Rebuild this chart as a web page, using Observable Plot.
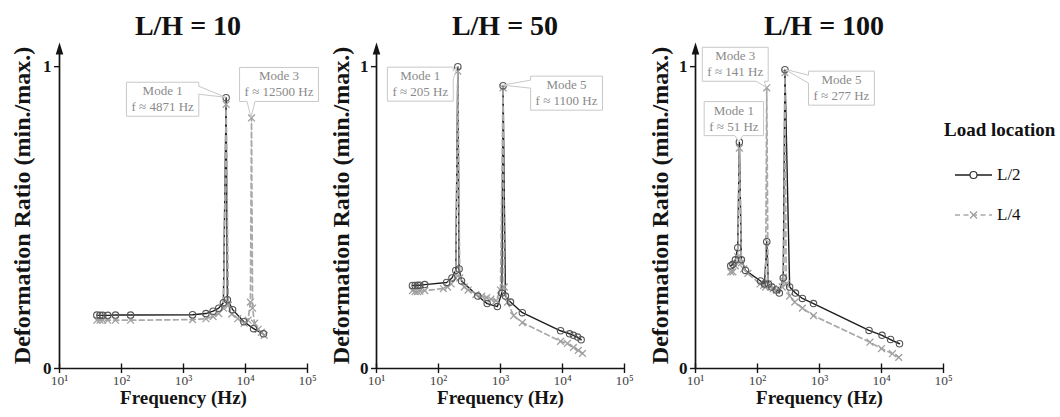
<!DOCTYPE html>
<html><head><meta charset="utf-8">
<script src="https://cdn.jsdelivr.net/npm/d3@7"></script>
<script src="https://cdn.jsdelivr.net/npm/@observablehq/plot@0.6"></script>
<style>
html,body{margin:0;padding:0;background:#fff;}
#chart{position:relative;width:1060px;height:417px;overflow:hidden;font-family:"Liberation Serif",serif;color:#111;}
.panel{position:absolute;top:0;}
.ptitle{position:absolute;top:12px;width:300px;margin-left:-150px;text-align:center;font-weight:bold;font-size:28px;line-height:28px;white-space:nowrap;}
.legtitle{position:absolute;left:944px;font-weight:bold;font-size:19px;line-height:19px;white-space:nowrap;}
.legrow{position:absolute;left:955px;height:20px;display:flex;align-items:center;font-size:17px;white-space:nowrap;}
</style></head><body><div id="chart"></div>
<script>
// ---------------- data ----------------
const panelTitles = ["L/H = 10", "L/H = 50", "L/H = 100"];
const seriesNames = ["L/2", "L/4"];
const xTickValues = [10, 100, 1000, 10000, 100000];
const xTickLabels = ["10¹", "10²", "10³", "10⁴", "10⁵"];
const yTickValues = [0, 1];
const xLabel = "Frequency (Hz)";
const yLabel = "Deformation Ratio (min./max.)";
const legendTitle = "Load location";

// L/H = 10
const freq10L2 = [40, 45, 50, 60, 80, 140, 1400, 2300, 3000, 3700, 4400, 4871, 5100, 6200, 9400, 13500, 19500];
const ratio10L2 = [0.177, 0.176, 0.176, 0.176, 0.177, 0.177, 0.178, 0.182, 0.19, 0.2, 0.218, 0.897, 0.228, 0.195, 0.155, 0.132, 0.115];
const freq10L4 = [40, 45, 50, 60, 80, 140, 1400, 2300, 3000, 3700, 4400, 4871, 5300, 6000, 7500, 9500, 11000, 12000, 12500, 13000, 14000, 16000, 18000, 20000];
const ratio10L4 = [0.16, 0.16, 0.16, 0.16, 0.16, 0.16, 0.162, 0.165, 0.172, 0.182, 0.2, 0.875, 0.21, 0.18, 0.165, 0.15, 0.16, 0.22, 0.83, 0.2, 0.15, 0.13, 0.12, 0.11];

// L/H = 50
const freq50L2 = [38, 42, 46, 50, 60, 135, 165, 190, 205, 215, 235, 430, 610, 890, 1050, 1100, 1200, 1450, 2250, 9300, 13000, 15000, 17500, 20000];
const ratio50L2 = [0.275, 0.275, 0.276, 0.276, 0.278, 0.285, 0.3, 0.325, 1.0, 0.33, 0.29, 0.24, 0.215, 0.205, 0.25, 0.937, 0.24, 0.22, 0.185, 0.125, 0.115, 0.11, 0.104, 0.095];
const freq50L4 = [38, 42, 46, 50, 60, 120, 140, 160, 190, 205, 220, 260, 300, 400, 500, 600, 700, 850, 1000, 1100, 1150, 1300, 1630, 2250, 9300, 12000, 15000, 18000, 21000];
const ratio50L4 = [0.258, 0.255, 0.255, 0.256, 0.258, 0.265, 0.27, 0.28, 0.3, 0.985, 0.3, 0.27, 0.26, 0.245, 0.24, 0.235, 0.23, 0.225, 0.26, 0.93, 0.27, 0.22, 0.175, 0.152, 0.09, 0.083, 0.07, 0.06, 0.05];

// L/H = 100
const freq100L2 = [37, 40, 44, 48, 51, 55, 64, 112, 130, 141, 150, 170, 200, 225, 260, 277, 330, 410, 530, 800, 6300, 10200, 14000, 19500];
const ratio100L2 = [0.34, 0.345, 0.36, 0.4, 0.75, 0.36, 0.325, 0.29, 0.28, 0.42, 0.28, 0.27, 0.26, 0.25, 0.3, 0.99, 0.27, 0.25, 0.232, 0.215, 0.126, 0.11, 0.096, 0.082];
const freq100L4 = [37, 40, 44, 48, 51, 55, 60, 70, 110, 125, 135, 141, 148, 160, 180, 200, 250, 265, 277, 290, 330, 400, 530, 800, 6500, 10000, 15000, 19000];
const ratio100L4 = [0.32, 0.32, 0.34, 0.37, 0.73, 0.35, 0.33, 0.315, 0.28, 0.275, 0.27, 0.93, 0.28, 0.27, 0.265, 0.26, 0.27, 0.29, 0.98, 0.28, 0.24, 0.22, 0.2, 0.175, 0.087, 0.066, 0.049, 0.037];

// mode annotations
const modePanel = [0, 0, 1, 1, 2, 2, 2];
const modeName = ["Mode 1", "Mode 3", "Mode 1", "Mode 5", "Mode 3", "Mode 1", "Mode 5"];
const modeFreq = [4871, 12500, 205, 1100, 141, 51, 277];
const modeFreqText = ["f ≈ 4871 Hz", "f ≈ 12500 Hz", "f ≈ 205 Hz", "f ≈ 1100 Hz", "f ≈ 141 Hz", "f ≈ 51 Hz", "f ≈ 277 Hz"];
const modeSeries = ["L/2", "L/4", "L/2", "L/2", "L/4", "L/2", "L/2"];

// ---------------- layout (not data) ----------------
const panelLeft = [0, 320, 640];
const panelML = [59, 56, 55];
const panelMR = [23, 26, 27];
const panelW = 330;
const yLabelDx = [-37, -35, -35];
const calloutLayout = [
  {dx: -63, dy: 2, side: "right"},
  {dx: 28, dy: -33, side: "bottom"},
  {dx: -37, dy: 18, side: "right"},
  {dx: 64, dy: 8, side: "left"},
  {dx: -31, dy: -23, side: "bottom"},
  {dx: -5, dy: -23, side: "bottom"},
  {dx: 57, dy: 19, side: "left"}
];

const panelSeries = [
  [[freq10L2, ratio10L2], [freq10L4, ratio10L4]],
  [[freq50L2, ratio50L2], [freq50L4, ratio50L4]],
  [[freq100L2, ratio100L2], [freq100L4, ratio100L4]]
];

const INK = "#141414";
const arrowHead = {draw(ctx) { ctx.moveTo(0, -12); ctx.lineTo(3.8, 0); ctx.lineTo(-3.8, 0); ctx.closePath(); }};
const chart = document.getElementById("chart");

panelTitles.forEach((title, p) => {
  const [[fA, rA], [fB, rB]] = panelSeries[p];
  const rowsL2 = fA.map((f, i) => ({f, r: rA[i], s: seriesNames[0]}));
  const rowsL4 = fB.map((f, i) => ({f, r: rB[i], s: seriesNames[1]}));

  const plot = Plot.plot({
    width: panelW, height: 417,
    marginLeft: panelML[p], marginRight: panelMR[p], marginTop: 42, marginBottom: 49,
    style: {background: "transparent", fontFamily: "'Liberation Serif', serif", overflow: "visible", color: INK},
    x: {type: "log", domain: [10, 100000]},
    y: {domain: [0, 1.08]},
    marks: [
      Plot.axisX({ticks: xTickValues, tickFormat: d => xTickLabels[xTickValues.indexOf(d)], tickSize: 5, tickPadding: 2,
                  fontSize: 13.5, fill: "#444", stroke: INK, strokeWidth: 1.4, label: null}),
      Plot.ruleX(xTickValues, {x: d => d, y1: 0, y2: 0.015, stroke: INK, strokeWidth: 1.4}),
      Plot.axisY({ticks: yTickValues, tickFormat: d => String(d), tickSize: 5, tickPadding: 3,
                  fontSize: 17, fontWeight: "bold", fill: INK, stroke: INK, strokeWidth: 1.4, label: null}),
      Plot.ruleY([0], {stroke: INK, strokeWidth: 1.7}),
      Plot.ruleX([10], {y1: 0, y2: 1.04, stroke: INK, strokeWidth: 1.7}),
      Plot.dot([10], {x: d => d, y: () => 1.04, symbol: arrowHead, r: 4, fill: INK, stroke: "none"}),
      Plot.text([yLabel], {text: d => d, frameAnchor: "left", rotate: -90, dx: yLabelDx[p], textAnchor: "middle",
                  lineAnchor: "middle", fontSize: 24, fontWeight: "bold", fill: INK}),
      Plot.text([xLabel], {text: d => d, frameAnchor: "bottom", dy: 29, textAnchor: "middle",
                  lineAnchor: "middle", fontSize: 19, fontWeight: "bold", fill: INK}),
      Plot.line(rowsL2, {x: "f", y: "r", stroke: "#1c1c1c", strokeWidth: 1.4}),
      Plot.line(rowsL4, {x: "f", y: "r", stroke: "#a9a9a9", strokeWidth: 1.7, strokeDasharray: "5,3.5"}),
      Plot.dot(rowsL4, {x: "f", y: "r", symbol: "times", r: 3.2, stroke: "#a0a0a0", strokeWidth: 1.3}),
      Plot.dot(rowsL2, {x: "f", y: "r", symbol: "circle", r: 3.2, stroke: "#555", fill: "none", strokeWidth: 1.1})
    ]
  });

  const wrap = document.createElement("div");
  wrap.className = "panel";
  wrap.style.left = panelLeft[p] + "px";
  wrap.appendChild(plot);
  chart.appendChild(wrap);

  // callouts
  const xs = plot.scale("x"), ys = plot.scale("y");
  const svg = d3.select(plot);
  modePanel.forEach((mp, k) => {
    if (mp !== p) return;
    const sIdx = seriesNames.indexOf(modeSeries[k]);
    const [fs, rs] = panelSeries[p][sIdx];
    const val = rs[fs.indexOf(modeFreq[k])];
    const tx = xs.apply(modeFreq[k]), ty = ys.apply(val);
    const lay = calloutLayout[k];
    const g = svg.append("g");
    const t1 = g.append("text").text(modeName[k]);
    const t2 = g.append("text").text(modeFreqText[k]);
    [t1, t2].forEach(t => t.attr("font-size", 13).attr("fill", "#8a8a8a").attr("text-anchor", "middle")
      .attr("font-family", "'Liberation Serif', serif"));
    const w = Math.max(t1.node().getComputedTextLength(), t2.node().getComputedTextLength()) + 10;
    const h = 34;
    const cx = tx + lay.dx, cy = ty + lay.dy;
    const x0 = cx - w / 2, x1 = cx + w / 2, y0 = cy - h / 2, y1 = cy + h / 2;
    let d;
    if (lay.side === "right") {
      const a = y0 + 8;
      d = `M${x0},${y0}L${x1},${y0}L${x1},${a - 4}L${tx},${ty}L${x1},${a + 4}L${x1},${y1}L${x0},${y1}Z`;
    } else if (lay.side === "left") {
      const a = y0 + 8;
      d = `M${x0},${y0}L${x1},${y0}L${x1},${y1}L${x0},${y1}L${x0},${a + 4}L${tx},${ty}L${x0},${a - 4}Z`;
    } else {
      const a = Math.max(x0 + 8, Math.min(x1 - 8, tx));
      d = `M${x0},${y0}L${x1},${y0}L${x1},${y1}L${a + 4},${y1}L${tx},${ty}L${a - 4},${y1}L${x0},${y1}Z`;
    }
    g.insert("path", "text").attr("d", d).attr("fill", "#fff").attr("stroke", "#c8c8c8").attr("stroke-width", 1);
    t1.attr("x", cx).attr("y", cy - 4);
    t2.attr("x", cx).attr("y", cy + 12);
  });

  // title
  const tdiv = document.createElement("div");
  tdiv.className = "ptitle";
  const axisCenter = panelLeft[p] + (xs.range[0] + xs.range[1]) / 2;
  tdiv.style.left = (axisCenter + 5) + "px";
  tdiv.textContent = title;
  chart.appendChild(tdiv);
});

// legend
const lt = document.createElement("div");
lt.className = "legtitle";
lt.style.top = "120px";
lt.textContent = legendTitle;
chart.appendChild(lt);
const legendTops = [165, 205];
seriesNames.forEach((name, i) => {
  const row = document.createElement("div");
  row.className = "legrow";
  row.style.top = legendTops[i] + "px";
  const s = d3.create("svg").attr("width", 38).attr("height", 20).style("margin-right", "4px");
  if (i === 0) {
    s.append("line").attr("x1", 0).attr("x2", 37).attr("y1", 10).attr("y2", 10).attr("stroke", "#1c1c1c").attr("stroke-width", 1.4);
    s.append("circle").attr("cx", 18.5).attr("cy", 10).attr("r", 3.5).attr("fill", "#fff").attr("stroke", "#333").attr("stroke-width", 1.2);
  } else {
    s.append("line").attr("x1", 0).attr("x2", 37).attr("y1", 10).attr("y2", 10).attr("stroke", "#a9a9a9").attr("stroke-width", 1.7).attr("stroke-dasharray", "5,3.5");
    s.append("path").attr("d", "M15,6.5L22,13.5M22,6.5L15,13.5").attr("stroke", "#a0a0a0").attr("stroke-width", 1.3);
  }
  row.appendChild(s.node());
  const tx = document.createElement("span");
  tx.textContent = name;
  row.appendChild(tx);
  chart.appendChild(row);
});
</script></body></html>
